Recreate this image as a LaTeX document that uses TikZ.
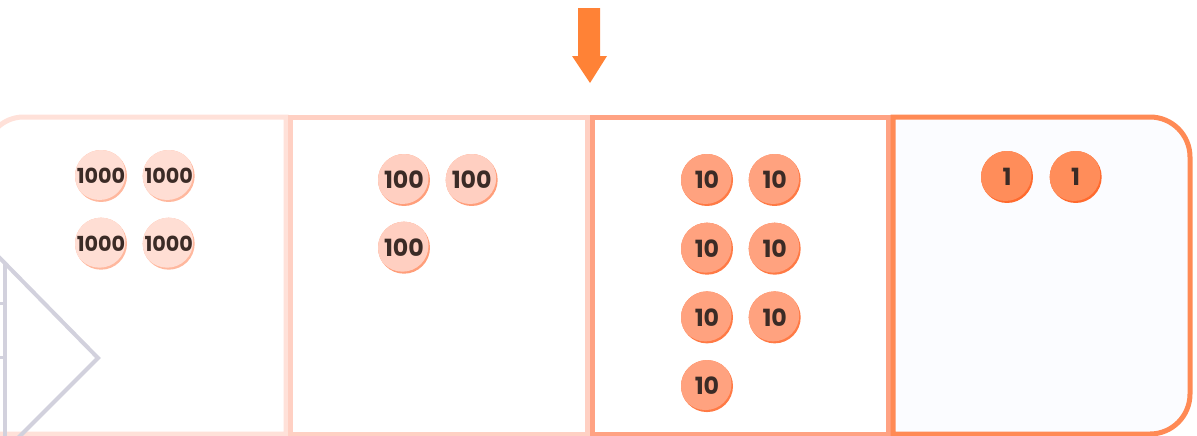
\documentclass[tikz,border=0pt]{standalone}
\usepackage{fontspec}
\setsansfont{Poppins}
\usetikzlibrary{positioning,calc}

\definecolor{thBorder}{HTML}{FFE1D9}
\definecolor{huBorder}{HTML}{FFD0C3}
\definecolor{teBorder}{HTML}{FFA283}
\definecolor{onBorder}{HTML}{FF8A55}
\definecolor{thCoin}{HTML}{FFDED4}
\definecolor{huCoin}{HTML}{FFCFC1}
\definecolor{teCoin}{HTML}{FFA27F}
\definecolor{onCoin}{HTML}{FF8D5A}
\definecolor{thRim}{HTML}{FFB89E}
\definecolor{huRim}{HTML}{FF9E7A}
\definecolor{teRim}{HTML}{FF7A45}
\definecolor{onRim}{HTML}{FF6A2E}
\definecolor{coinText}{HTML}{3B2B26}
\definecolor{pointer}{HTML}{FF8236}
\definecolor{guide}{HTML}{D2D1DD}
\definecolor{onesBg}{HTML}{FBFCFF}

\tikzset{
  column/.style={line width=0.1cm, fill=white},
  coin/.style 2 args={circle, minimum size=1.04cm, inner sep=0pt, fill=#2,
    text=coinText, font=\sffamily\bfseries\fontsize{13.5}{15}\selectfont,
    path picture={\fill[#1] ([shift={(-0.03cm,0.04cm)}]path picture bounding box.center) circle (0.52cm);}},
  bigcoin/.style={font=\sffamily\bfseries\fontsize{11.8}{14}\selectfont},
}

\begin{document}
\begin{tikzpicture}[x=0.02cm, y=-0.02cm, node distance=0.3cm]
\useasboundingbox (0,0) rectangle (1197,436);
\clip (0,0) rectangle (1197,436);

% place value columns
\draw[column, thBorder, fill=white] (286,434) -- (286,117) [rounded corners=0.75cm] -- (-14,117) -- (-14,300) [sharp corners] -- (-14,434) -- cycle;
\draw[column, huBorder, fill=white] (290,117) rectangle (587,434);
\draw[column, teBorder, fill=white] (592,117) rectangle (888,434);
\draw[column, onBorder, fill=onesBg] (893,117) [rounded corners=0.8cm] -- (1190,117) -- (1190,434) -- (1000,434) [sharp corners] -- (893,434) -- cycle;

% faded guide shape
\draw[guide, line width=0.08cm] (-10,248) -- (98,358) -- (-10,466);
\draw[guide, line width=0.08cm] (5,262) -- (5,440);
\draw[guide, line width=0.06cm] (0,303) -- (5,303) (0,357) -- (5,357);

% pointer arrow
\fill[pointer] (578,8) -- (600,8) -- (600,56) -- (607,56) -- (590,83) -- (572,56) -- (578,56) -- cycle;

% thousands
\node (th1) [coin={thCoin}{thRim}, bigcoin] at (101,176) {1000};
\node (th2) [coin={thCoin}{thRim}, bigcoin, right=of th1] {1000};
\node (th3) [coin={thCoin}{thRim}, bigcoin, below=of th1] {1000};
\node (th4) [coin={thCoin}{thRim}, bigcoin, right=of th3] {1000};

% hundreds
\node (hu1) [coin={huCoin}{huRim}] at (404,180) {100};
\node (hu2) [coin={huCoin}{huRim}, right=of hu1] {100};
\node (hu3) [coin={huCoin}{huRim}, below=of hu1] {100};

% tens
\node (te1) [coin={teCoin}{teRim}] at (707,180) {10};
\node (te2) [coin={teCoin}{teRim}, right=of te1] {10};
\node (te3) [coin={teCoin}{teRim}, below=0.32cm of te1] {10};
\node (te4) [coin={teCoin}{teRim}, right=of te3] {10};
\node (te5) [coin={teCoin}{teRim}, below=0.32cm of te3] {10};
\node (te6) [coin={teCoin}{teRim}, right=of te5] {10};
\node (te7) [coin={teCoin}{teRim}, below=0.32cm of te5] {10};

% ones
\node (on1) [coin={onCoin}{onRim}] at (1007,177) {1};
\node (on2) [coin={onCoin}{onRim}, right=0.32cm of on1] {1};
\end{tikzpicture}
\end{document}
